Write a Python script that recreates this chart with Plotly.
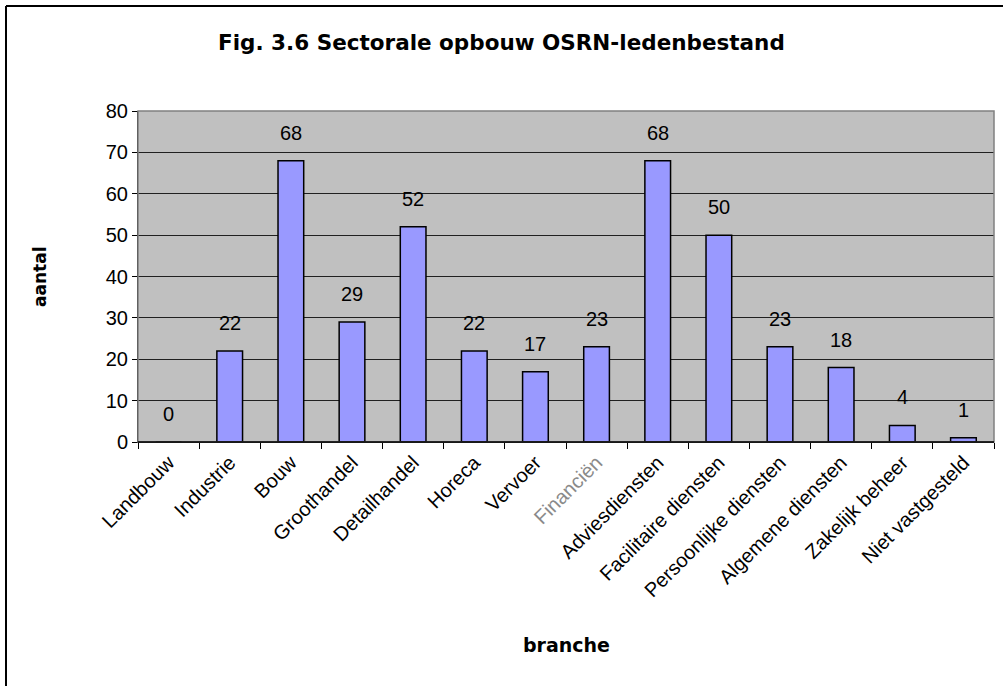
import plotly.graph_objects as go

# Sector breakdown of the membership file
branches = [
    "Landbouw", "Industrie", "Bouw", "Groothandel", "Detailhandel", "Horeca",
    "Vervoer", "Financiën", "Adviesdiensten", "Facilitaire diensten",
    "Persoonlijke diensten", "Algemene diensten", "Zakelijk beheer",
    "Niet vastgesteld",
]
aantal = [0, 22, 68, 29, 52, 22, 17, 23, 68, 50, 23, 18, 4, 1]
y_ticks = [0, 10, 20, 30, 40, 50, 60, 70, 80]
faded_labels = ["Financiën"]

BAR_FILL = "#9999FF"
PLOT_BG = "#C0C0C0"
LABEL_FONT = dict(family="Liberation Sans, Arial, sans-serif", size=20, color="black")
BOLD_FONT = "DejaVu Sans, Verdana, sans-serif"

# plot area in pixels: left 138, right 994, top 111, bottom 442
PW, PH = 856, 331


def px_x(px):
    return (px - 138) / PW


def px_y(py):
    return (442 - py) / PH


tick_text = [
    f'<span style="color:#8a8a8a">{b}</span>' if b in faded_labels else b
    for b in branches
]

fig = go.Figure()
fig.add_trace(go.Bar(
    x=branches,
    y=aantal,
    width=0.42,
    marker=dict(color=BAR_FILL, line=dict(color="black", width=1.5)),
    hoverinfo="x+y",
))

# value labels floating above each bar
for name, val in zip(branches, aantal):
    fig.add_annotation(
        x=name, y=val, xref="x", yref="y",
        text=str(val), showarrow=False,
        yanchor="middle", yshift=28,
        font=LABEL_FONT,
    )

# chart title and axis titles
fig.add_annotation(
    x=px_x(501), y=px_y(42), xref="paper", yref="paper",
    xanchor="center", yanchor="middle",
    text="<b>Fig. 3.6 Sectorale opbouw OSRN-ledenbestand</b>",
    showarrow=False, font=dict(family=BOLD_FONT, size=21.5, color="black"),
)
fig.add_annotation(
    x=px_x(40), y=px_y(277), xref="paper", yref="paper",
    xanchor="center", yanchor="middle",
    text="<b>aantal</b>", textangle=-90, showarrow=False,
    font=dict(family=BOLD_FONT, size=17, color="black"),
)
fig.add_annotation(
    x=px_x(566), y=px_y(645), xref="paper", yref="paper",
    xanchor="center", yanchor="middle",
    text="<b>branche</b>", showarrow=False,
    font=dict(family=BOLD_FONT, size=19, color="black"),
)

fig.update_layout(
    width=1003, height=686,
    margin=dict(l=138, r=9, t=111, b=244, autoexpand=False),
    paper_bgcolor="white",
    plot_bgcolor=PLOT_BG,
    showlegend=False,
    bargap=0.58,
    xaxis=dict(
        type="category",
        tickson="boundaries",
        tickmode="array", tickvals=branches, ticktext=tick_text,
        ticks="outside", ticklen=6, tickcolor="black", tickwidth=1,
        tickangle=-45,
        tickfont=LABEL_FONT,
        showgrid=False,
        showline=True, linecolor="black", linewidth=1,
        mirror=False,
    ),
    yaxis=dict(
        range=[0, 80],
        tickvals=y_ticks,
        ticks="outside", ticklen=5, tickcolor="black", tickwidth=1,
        tickfont=LABEL_FONT,
        showgrid=True, gridcolor="#202020", gridwidth=1,
        showline=True, linecolor="black", linewidth=1,
        zeroline=False,
    ),
)

# grey frame around the plot area
fig.add_shape(type="rect", xref="paper", yref="paper", x0=0, x1=1, y0=0, y1=1,
              line=dict(color="#808080", width=1.5), layer="above")
# chart border (top and left edges fall inside the page)
fig.add_shape(type="line", xref="paper", yref="paper",
              x0=px_x(6), x1=1.2, y0=px_y(6), y1=px_y(6),
              line=dict(color="black", width=2))
fig.add_shape(type="line", xref="paper", yref="paper",
              x0=px_x(6), x1=px_x(6), y0=px_y(6), y1=-1,
              line=dict(color="black", width=2))
fig.add_shape(type="line", xref="paper", yref="paper", x0=0, x1=1, y0=0, y1=0,
              line=dict(color="black", width=1.5), layer="above")

fig.write_html("out.html")
